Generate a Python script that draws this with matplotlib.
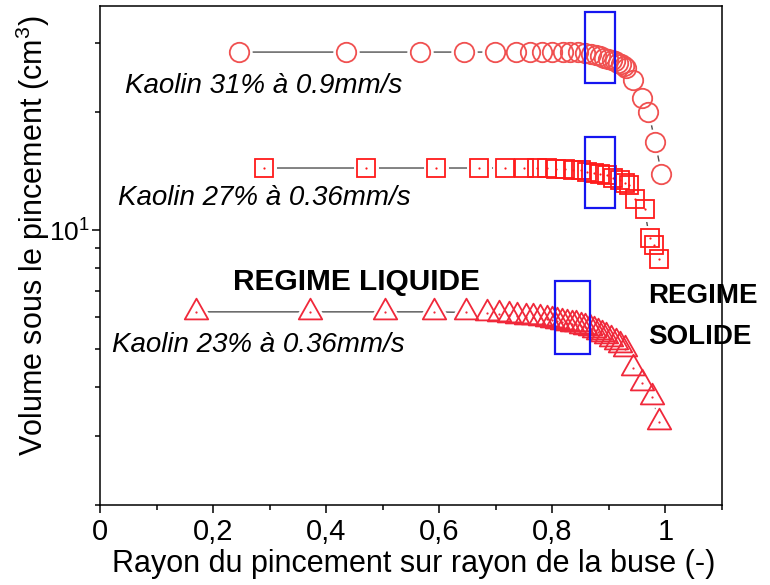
import matplotlib
matplotlib.use("Agg")
import matplotlib.pyplot as plt
from matplotlib.path import Path
from matplotlib.patches import Rectangle
from matplotlib.ticker import FixedLocator, FixedFormatter, NullFormatter, MultipleLocator

plt.rcParams['font.family'] = ['Liberation Sans', 'DejaVu Sans']
plt.rcParams['mathtext.default'] = 'regular'

# ---- data ----
k31_x = [0.246, 0.435, 0.566, 0.644, 0.699, 0.736, 0.761, 0.782, 0.800, 0.818, 0.832, 0.846,
         0.858, 0.868, 0.877, 0.885, 0.892, 0.899, 0.905, 0.911, 0.916, 0.921, 0.926, 0.931,
         0.943, 0.958, 0.970, 0.982, 0.993]
k31_y = [28.4, 28.4, 28.4, 28.4, 28.4, 28.4, 28.4, 28.4, 28.4, 28.4, 28.4, 28.4,
         28.3, 28.1, 27.9, 27.7, 27.5, 27.3, 27.1, 26.9, 26.7, 26.5, 26.2, 25.8,
         24.1, 21.7, 20.0, 16.75, 13.9]

k27_x = [0.290, 0.471, 0.595, 0.671, 0.717, 0.750, 0.773, 0.791, 0.807, 0.823, 0.837, 0.850,
         0.862, 0.873, 0.885, 0.897, 0.908, 0.920, 0.929, 0.936, 0.947, 0.963, 0.972, 0.979, 0.989]
k27_y = [14.4, 14.4, 14.4, 14.4, 14.4, 14.4, 14.4, 14.4, 14.35, 14.3, 14.25, 14.2,
         14.1, 14.0, 13.9, 13.8, 13.6, 13.4, 13.2, 13.0, 12.0, 11.3, 9.54, 9.16, 8.44]

k23_x = [0.170, 0.371, 0.504, 0.590, 0.648, 0.685, 0.705, 0.723, 0.738, 0.754, 0.766, 0.779,
         0.790, 0.799, 0.808, 0.817, 0.826, 0.834, 0.842, 0.850, 0.858, 0.866, 0.873, 0.880,
         0.887, 0.895, 0.903, 0.912, 0.920, 0.929, 0.942, 0.959, 0.977, 0.989]
k23_y = [6.2, 6.2, 6.2, 6.2, 6.18, 6.15, 6.12, 6.09, 6.06, 6.03, 6.0, 5.97,
         5.94, 5.91, 5.88, 5.85, 5.82, 5.79, 5.76, 5.72, 5.68, 5.64, 5.58, 5.52,
         5.45, 5.37, 5.29, 5.2, 5.1, 5.0, 4.46, 4.08, 3.76, 3.25]

box_x0 = [0.858, 0.858, 0.805]
box_x1 = [0.910, 0.910, 0.866]
box_y0 = [23.7, 11.4, 4.84]
box_y1 = [35.9, 17.3, 7.42]

series_labels = ["Kaolin 31% à 0.9mm/s", "Kaolin 27% à 0.36mm/s", "Kaolin 23% à 0.36mm/s"]
x_ticks = [0, 0.2, 0.4, 0.6, 0.8, 1.0]
x_ticklabels = ["0", "0,2", "0,4", "0,6", "0,8", "1"]

# ---- figure ----
fig = plt.figure(figsize=(7.7, 5.85), dpi=100)
ax = fig.add_axes([100/770, 1-505/585, 622/770, 499/585])
ax.set_yscale('log')
ax.set_xlim(0, 1.1)
ax.set_ylim(2, 37.2)

tri = Path([(0, 13.8), (-11.7, -6.9), (11.7, -6.9), (0, 0)],
           [Path.MOVETO, Path.LINETO, Path.LINETO, Path.CLOSEPOLY])

specs = [
    (k31_x, k31_y, 'o', 14.0, '#f05050', False),
    (k27_x, k27_y, 's', 12.5, '#ff1a1a', True),
    (k23_x, k23_y, tri, 19.9, '#f0283a', True),
]
for xs, ys, m, ms, col, dot in specs:
    ax.plot(xs, ys, color='#505050', lw=1.0, zorder=1)
    ax.plot(xs, ys, ls='none', marker=m, ms=ms, mfc='white', mec='white', mew=5, zorder=2)
    ax.plot(xs, ys, ls='none', marker=m, ms=ms, mfc='none', mec=col, mew=1.3, zorder=3)
    if dot:
        ax.plot(xs, ys, ls='none', marker='o', ms=1.6, mfc=col, mec='none', zorder=3.5)

for x0, x1, y0, y1 in zip(box_x0, box_x1, box_y0, box_y1):
    ax.add_patch(Rectangle((x0, y0), x1 - x0, y1 - y0, fill=False, ec='#1515f0', lw=1.6, zorder=4))

# annotations
ax.text(0.044, 22.3, series_labels[0], fontsize=20, style='italic', ha='left', va='baseline')
ax.text(0.032, 11.57, series_labels[1], fontsize=20, style='italic', ha='left', va='baseline')
ax.text(0.021, 4.89, series_labels[2], fontsize=20, style='italic', ha='left', va='baseline')
ax.text(0.453, 7.06, "REGIME LIQUIDE", fontsize=21.5, fontweight='bold', ha='center', va='baseline')
ax.text(0.970, 6.52, "REGIME", fontsize=20, fontweight='bold', ha='left', va='baseline')
ax.text(0.970, 5.13, "SOLIDE", fontsize=20, fontweight='bold', ha='left', va='baseline')

# axes styling
ax.xaxis.set_major_locator(FixedLocator(x_ticks))
ax.xaxis.set_major_formatter(FixedFormatter(x_ticklabels))
ax.xaxis.set_minor_locator(MultipleLocator(0.1))
ax.yaxis.set_major_locator(FixedLocator([10]))
ax.yaxis.set_major_formatter(FixedFormatter([r'$\mathdefault{10^{1}}$']))
ax.yaxis.set_minor_locator(FixedLocator([2, 3, 4, 5, 6, 7, 8, 9, 20, 30]))
ax.yaxis.set_minor_formatter(NullFormatter())
ax.tick_params(which='major', direction='out', length=6, width=1.1, pad=3)
ax.tick_params(axis='x', which='major', labelsize=21)
ax.tick_params(axis='y', which='major', labelsize=19, pad=1)
ax.tick_params(which='minor', direction='out', length=3.5, width=1.1)
for s in ax.spines.values():
    s.set_linewidth(1.1)

ax.set_xlabel("Rayon du pincement sur rayon de la buse (-)", fontsize=22)
ax.set_ylabel("Volume sous le pincement (cm$^3$)", fontsize=22)
ax.xaxis.set_label_coords(0.504, -0.088)
ax.yaxis.set_label_coords(-0.077, 0.54)

fig.savefig("out.png", dpi=100)
